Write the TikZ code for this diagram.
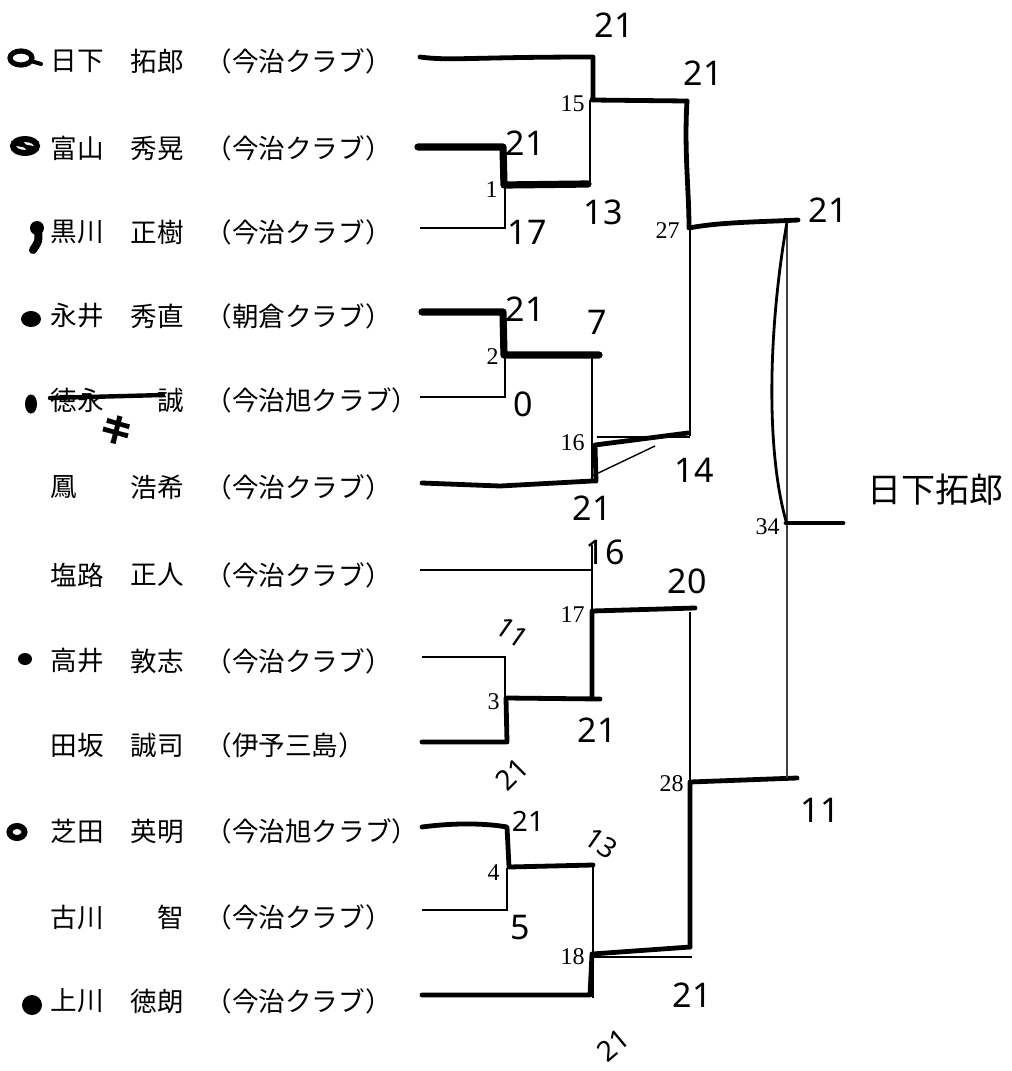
\documentclass[tikz,border=0pt]{standalone}
\usepackage{fontspec}
\setmainfont{Liberation Serif}
\newfontfamily\jpfont{Noto Sans CJK JP}
\newfontfamily\handfont{Noto Sans}
\begin{document}
\begin{tikzpicture}[x=0.5pt,y=-0.5pt,
  bthin/.style={line width=0.7pt},
  bwin/.style={line width=2.4pt,line cap=round,line join=round},
  bwinx/.style={line width=3.6pt,line cap=round,line join=round},
  pname/.style={font=\jpfont\fontsize{13.3}{14}\selectfont,inner sep=0pt},
  mno/.style={font=\fontsize{12}{12}\selectfont,inner sep=0pt,anchor=east},
  score/.style={font=\handfont\fontsize{17}{17}\selectfont,inner sep=0pt},
  smallscore/.style={font=\handfont\fontsize{14}{14}\selectfont,inner sep=0pt}]
\useasboundingbox (0,0) rectangle (1012,1071);

% ---------- players ----------
\foreach \i/\y/\sn/\gn/\cl in {
  1/61/日下/拓郎/（今治クラブ）,
  2/148/富山/秀晃/（今治クラブ）,
  3/232/黒川/正樹/（今治クラブ）,
  4/316/永井/秀直/（朝倉クラブ）,
  5/400/徳永/誠/（今治旭クラブ）,
  6/487/鳳/浩希/（今治クラブ）,
  7/575/塩路/正人/（今治クラブ）,
  8/661/高井/敦志/（今治クラブ）,
  9/745/田坂/誠司/（伊予三島）,
  10/831/芝田/英明/（今治旭クラブ）,
  11/917/古川/智/（今治クラブ）,
  12/1001/上川/徳朗/（今治クラブ）}{
  \node[pname,anchor=west] (s\i) at (50,\y) {\sn};
  \node[pname,anchor=east] (g\i) at (184,\y) {\gn};
  \node[pname,anchor=west] (c\i) at (205,\y) {\cl};
}

% ---------- left marks ----------
\draw[line width=2.6pt] (21,58) ellipse (11 and 7);
\draw[line width=2pt,line cap=round] (31,61) -- (41,64);
\draw[line width=3pt] (25,146) ellipse (12 and 7);
\draw[line width=1.6pt] (15,144) -- (35,148) (20,141) -- (30,151);
\fill (37,228) circle (7);
\draw[line width=4pt,line cap=round] (38,231) .. controls (39,241) .. (33,250);
\fill (31,319) ellipse (10 and 8);
\fill (31,404) ellipse (6 and 9.5);
\fill (25,659) ellipse (7 and 6);
\draw[line width=3pt] (17,832) ellipse (7.5 and 6);
\fill (32,1005) circle (10);

% strike-through and correction on row 5
\draw[line width=2.2pt,line cap=round] (50,398) -- (163,395);
\node[font=\jpfont\bfseries\fontsize{16}{16}\selectfont,inner sep=0pt,rotate=-25] (fix5) at (117,430) {キ};

% ---------- row line starts ----------
\coordinate (r1) at (420,57);
\coordinate (r2) at (418,147);
\coordinate (r3) at (420,228);
\coordinate (r4) at (422,312);
\coordinate (r5) at (420,397);
\coordinate (r6) at (422,483);
\coordinate (r7) at (420,570);
\coordinate (r8) at (422,657);
\coordinate (r9) at (422,742);
\coordinate (r10) at (422,827);
\coordinate (r11) at (422,910);
\coordinate (r12) at (422,995);

% ---------- joints ----------
\coordinate (j1) at (504,185);
\coordinate (j15) at (592,100);
\coordinate (j2) at (504,355);
\coordinate (j16) at (595,445);
\coordinate (j27) at (689,228);
\coordinate (j3) at (506,698);
\coordinate (j17) at (592,611);
\coordinate (j4) at (509,867);
\coordinate (j18) at (592,954);
\coordinate (j28) at (690,782);
\coordinate (j34) at (787,523);

% ---------- match numbers ----------
\node[mno] (m1) at (498,190) {1};
\node[mno] (m15) at (585,104) {15};
\node[mno] (m2) at (499,357) {2};
\node[mno] (m16) at (585,443) {16};
\node[mno] (m27) at (680,231) {27};
\node[mno] (m17) at (585,615) {17};
\node[mno] (m3) at (500,702) {3};
\node[mno] (m28) at (684,784) {28};
\node[mno] (m4) at (500,873) {4};
\node[mno] (m18) at (585,957) {18};
\node[mno] (m34) at (780,527) {34};

% ---------- match 1 ----------
\draw[bwinx] (r2) -- (503,147) -- (j1) -- (588,184);
\draw[bthin] (r3) -- (505,228) -- (505,186);
% ---------- match 15 ----------
\draw[bwin] (r1) .. controls (450,61) and (470,57) .. (593,57) -- (593,98) -- (j15) -- (687,101);
\draw[bthin] (590,100) -- (590,184);
% ---------- match 2 ----------
\draw[bwinx] (r4) -- (503,312) -- (j2) -- (599,355);
\draw[bthin] (r5) -- (505,397) -- (505,356);
% ---------- match 16 ----------
\draw[bthin] (592,356) -- (592,480);
\draw[bwin] (r6) -- (500,486) -- (592,481) -- (596,481) -- (j16) -- (688,433);
\draw[bthin] (592,476) -- (655,446);
\draw[bthin] (597,437) -- (690,437);
% ---------- match 27 ----------
\draw[bwin] (687,101) .. controls (684,150) and (689,190) .. (j27) .. controls (720,222) and (760,222) .. (798,220);
\draw[bthin] (690,228) -- (690,436);
% ---------- match 3 ----------
\draw[bthin] (r8) -- (505,657) -- (505,698);
\draw[bwin] (r9) -- (507,742) -- (j3) -- (600,699);
% ---------- match 17 ----------
\draw[bthin] (r7) -- (592,570) -- (592,611);
\draw[bthin] (592,545) -- (592,570);
\draw[bwin] (592,698) -- (j17) -- (695,608);
\draw[bthin] (690,612) -- (690,782);
% ---------- match 4 ----------
\draw[bwin] (r10) .. controls (460,822) and (490,824) .. (507,827) -- (j4) -- (593,865);
\draw[bthin] (r11) -- (507,910) -- (507,868);
% ---------- match 18 ----------
\draw[bthin] (593,866) -- (593,998);
\draw[bwin] (r12) -- (590,995) -- (j18) -- (690,947);
\draw[bthin] (593,957) -- (692,957);
% ---------- match 28 ----------
\draw[bwin] (690,947) -- (j28) -- (797,778);
% ---------- match 34 ----------
\draw[line width=0.8pt,black!75] (787,222) -- (787,778);
\draw[line width=1.4pt] (787,222) .. controls (768,330) and (766,450) .. (786,521);
\draw[bwin] (786,523) -- (843,523);

% ---------- scores ----------
\node[score] (sc1) at (614,25) {21};
\node[score] (sc2) at (703,73) {21};
\node[score] (sc3) at (525,143) {21};
\node[score] (sc4) at (527,232) {17};
\node[score] (sc5) at (603,212) {13};
\node[score] (sc6) at (828,210) {21};
\node[score] (sc7) at (525,309) {21};
\node[score] (sc8) at (597,322) {7};
\node[score] (sc9) at (523,404) {0};
\node[score] (sc10) at (694,470) {14};
\node[score] (sc11) at (592,508) {21};
\node[score] (sc12) at (605,552) {16};
\node[score] (sc13) at (687,581) {20};
\node[smallscore,rotate=-35] (sc14) at (512,632) {11};
\node[score] (sc15) at (597,730) {21};
\node[smallscore,rotate=45] (sc16) at (512,774) {21};
\node[smallscore] (sc17) at (528,821) {21};
\node[smallscore,rotate=-35] (sc18) at (601,843) {13};
\node[score] (sc19) at (520,928) {5};
\node[score] (sc20) at (692,995) {21};
\node[smallscore,rotate=40] (sc21) at (613,1045) {21};
\node[score] (sc22) at (820,810) {11};

% ---------- winner ----------
\node[font=\jpfont\fontsize{17}{17}\selectfont,inner sep=0pt] (champ) at (935,490) {日下拓郎};
\end{tikzpicture}
\end{document}
